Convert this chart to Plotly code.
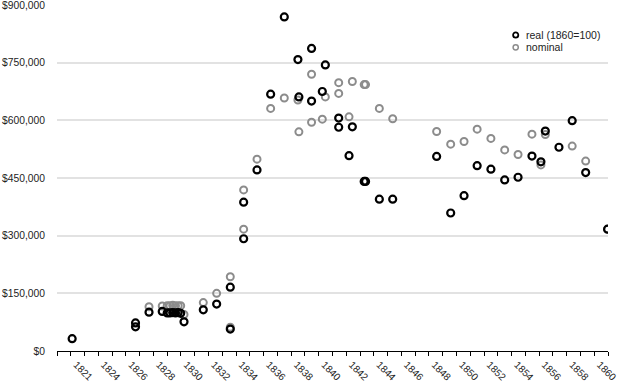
import plotly.graph_objects as go

# ---- data ----
real_years = [1821.1, 1825.7, 1825.7, 1826.68, 1827.64,
              1828.0, 1828.2, 1828.4, 1828.6, 1828.8, 1828.98,
              1829.22, 1830.62, 1831.59, 1832.58, 1832.58, 1833.55, 1833.55,
              1834.52, 1835.51, 1836.5, 1837.49, 1837.56, 1838.48, 1838.48,
              1839.26, 1839.48, 1840.45, 1840.45, 1841.2, 1841.44,
              1842.3, 1842.4, 1843.4, 1844.37, 1847.56, 1848.58, 1849.55,
              1850.5, 1851.5, 1852.5, 1853.47, 1854.48, 1855.13, 1855.45,
              1856.44, 1857.4, 1858.38, 1859.97]
real_values = [32000, 73000, 63000, 101000, 103000,
               99000, 99000, 100000, 99000, 100000, 98000,
               76000, 107000, 122000, 166000, 57000, 292000, 387000,
               471000, 668000, 869000, 758000, 661000, 787000, 650000,
               675000, 744000, 606000, 582000, 508000, 583000,
               441000, 441000, 395000, 395000, 506000, 359000, 404000,
               482000, 473000, 445000, 452000, 507000, 492000, 572000,
               530000, 599000, 464000, 317000]

nominal_years = [1826.68, 1827.64,
                 1828.0, 1828.2, 1828.4, 1828.6, 1828.8, 1828.98,
                 1829.22, 1830.62, 1831.59, 1832.58, 1832.58, 1833.55, 1833.55,
                 1834.52, 1835.51, 1836.5, 1837.49, 1837.56, 1838.48, 1838.48,
                 1839.26, 1839.48, 1840.45, 1840.45, 1841.2, 1841.44,
                 1842.3, 1842.4, 1843.4, 1844.37, 1847.56, 1848.58, 1849.55,
                 1850.5, 1851.5, 1852.5, 1853.47, 1854.48, 1855.13, 1855.45,
                 1857.4, 1858.38, 1859.97]
nominal_values = [115000, 117000,
                  118000, 118000, 119000, 118000, 118000, 118000,
                  95000, 126000, 150000, 193000, 62000, 317000, 419000,
                  499000, 631000, 658000, 653000, 570000, 720000, 595000,
                  603000, 661000, 698000, 670000, 609000, 701000,
                  693000, 693000, 631000, 604000, 571000, 538000, 545000,
                  577000, 553000, 523000, 511000, 564000, 484000, 563000,
                  533000, 494000, 317000]

x_tick_years = [1822, 1824, 1826, 1828, 1830, 1832, 1834, 1836, 1838, 1840,
                1842, 1844, 1846, 1848, 1850, 1852, 1854, 1856, 1858, 1860]
x_tick_labels = ["1821", "1824", "1826", "1828", "1830", "1832", "1834", "1836",
                 "1838", "1840", "1842", "1844", "1846", "1848", "1850", "1852",
                 "1854", "1856", "1858", "1860"]
y_tick_values = [0, 150000, 300000, 450000, 600000, 750000, 900000]
y_tick_labels = ["$0", "$150,000", "$300,000", "$450,000", "$600,000",
                 "$750,000", "$900,000"]
legend_names = ["real (1860=100)", "nominal"]
legend_colors = ["#000000", "#8c8c8c"]

FONT = "Liberation Sans, Arial, Helvetica, sans-serif"
LABEL_SHIFT = 0.6  # rotated labels centred under their tick

fig = go.Figure()
fig.add_trace(go.Scatter(
    x=nominal_years, y=nominal_values, mode="markers", name="nominal",
    showlegend=False,
    marker=dict(symbol="circle-open", size=7, color="#8c8c8c",
                line=dict(width=2, color="#8c8c8c")),
))
fig.add_trace(go.Scatter(
    x=real_years, y=real_values, mode="markers", name="real (1860=100)",
    showlegend=False,
    marker=dict(symbol="circle-open", size=7, color="#000000",
                line=dict(width=2.2, color="#000000")),
))

# legend drawn as small rings + text (compact spacing as in the reference)
legend_x = (515.7 - 57) / 551.0
for i, (name, col) in enumerate(zip(legend_names, legend_colors)):
    ly = 1 - (35 + i * 12.3 - 5) / 346.0
    fig.add_shape(type="circle", xref="paper", yref="paper",
                  xsizemode="pixel", ysizemode="pixel",
                  xanchor=legend_x, yanchor=ly,
                  x0=-2.6, x1=2.6, y0=-2.6, y1=2.6,
                  line=dict(color=col, width=1.8 if i == 0 else 1.5))
    fig.add_annotation(x=legend_x, y=ly, xref="paper", yref="paper",
                       xshift=8, text=name, showarrow=False,
                       xanchor="left", yanchor="middle",
                       font=dict(size=10.5, color="#222222"))

fig.update_layout(
    width=620, height=382,
    margin=dict(l=57, r=12, t=5, b=31, autoexpand=False),
    paper_bgcolor="white", plot_bgcolor="white",
    font=dict(family=FONT, size=10.3, color="#222222"),
    showlegend=False,
    xaxis=dict(
        range=[1820, 1860], showgrid=False, zeroline=False, automargin=False,
        showline=True, linecolor="#000000", linewidth=1,
        tickmode="array",
        tickvals=[v - LABEL_SHIFT for v in x_tick_years],
        ticktext=x_tick_labels, tickangle=45,
        tickfont=dict(size=10, color="#222222"),
        ticks="outside", ticklen=3, tickcolor="rgba(0,0,0,0)",
        ticklabeloverflow="allow",
        minor=dict(tickmode="array", tickvals=list(range(1820, 1861)),
                   ticks="outside", ticklen=4, tickcolor="#000000",
                   tickwidth=1, showgrid=False),
    ),
    yaxis=dict(
        range=[0, 900000], tickmode="array", tickvals=y_tick_values,
        ticktext=y_tick_labels, showgrid=True, gridcolor="#e2e2e2",
        gridwidth=1.5, zeroline=False, showline=False, automargin=False,
        ticks="outside", ticklen=9, tickcolor="rgba(0,0,0,0)",
        ticklabeloverflow="allow",
    ),
)

fig.write_html("out.html",
               config={"displayModeBar": False},
               post_script="document.body.style.margin='0';"
                           "document.body.style.padding='0';")
